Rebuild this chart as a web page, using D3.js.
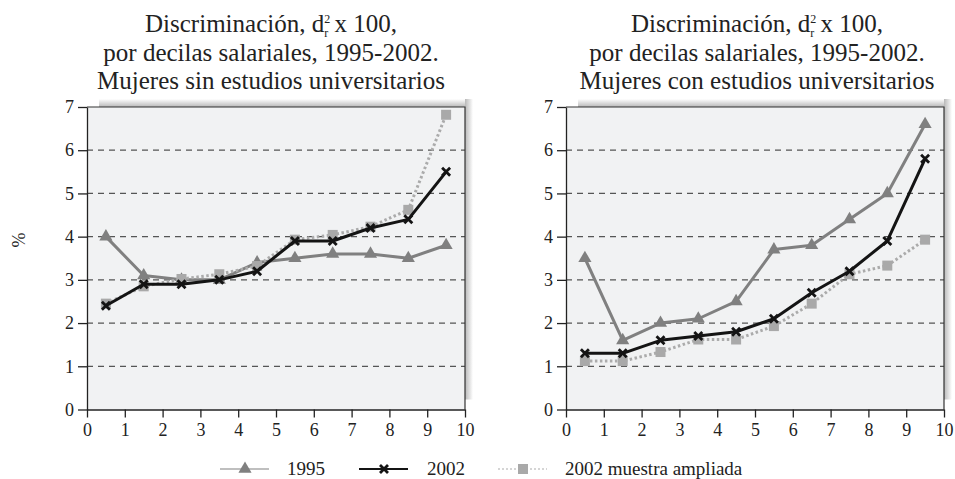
<!DOCTYPE html>
<html>
<head>
<meta charset="utf-8">
<title>Discriminación por decilas salariales</title>
<script src="https://d3js.org/d3.v7.min.js"></script>
<style>
  body { margin: 0; background: #fff; }
  text { font-family: "Liberation Serif", "Times New Roman", serif; fill: #222; }
</style>
</head>
<body>
<svg width="955" height="479"></svg>
<script>
// deciles (mid points) and values
const deciles = [0.5, 1.5, 2.5, 3.5, 4.5, 5.5, 6.5, 7.5, 8.5, 9.5];

const sin1995 = [4.0, 3.1, 3.0, 3.0, 3.4, 3.5, 3.6, 3.6, 3.5, 3.8];
const sin2002 = [2.4, 2.9, 2.9, 3.0, 3.2, 3.9, 3.9, 4.2, 4.4, 5.5];
const sinAmpl = [2.45, 2.85, 3.02, 3.13, 3.32, 3.93, 4.04, 4.23, 4.62, 6.82];

const con1995 = [3.5, 1.6, 2.0, 2.1, 2.5, 3.7, 3.8, 4.4, 5.0, 6.6];
const con2002 = [1.3, 1.3, 1.6, 1.7, 1.8, 2.1, 2.7, 3.2, 3.9, 5.8];
const conAmpl = [1.12, 1.12, 1.33, 1.62, 1.62, 1.93, 2.45, 3.13, 3.33, 3.93];

const xTicks = [0, 1, 2, 3, 4, 5, 6, 7, 8, 9, 10];
const yTicks = [0, 1, 2, 3, 4, 5, 6, 7];
const gridValues = [1, 2, 3, 4, 5, 6];

const seriesNames = ["1995", "2002", "2002 muestra ampliada"];

const panels = [
  { title: ["Mujeres sin estudios universitarios"], cx: 271, left: 87, s: [sin1995, sin2002, sinAmpl] },
  { title: ["Mujeres con estudios universitarios"], cx: 757, left: 566, s: [con1995, con2002, conAmpl] }
];

const serif = '"Liberation Serif", "Times New Roman", serif';
const plotW = 378, plotTop = 107, plotBottom = 409.5;

const svg = d3.select("svg");
const defs = svg.append("defs");

const gTop = defs.append("linearGradient").attr("id", "shTop")
  .attr("x1", 0).attr("y1", 1).attr("x2", 0).attr("y2", 0);
gTop.append("stop").attr("offset", 0).attr("stop-color", "#b8b8b8");
gTop.append("stop").attr("offset", 1).attr("stop-color", "#ffffff");
const gRight = defs.append("linearGradient").attr("id", "shRight")
  .attr("x1", 0).attr("y1", 0).attr("x2", 1).attr("y2", 0);
gRight.append("stop").attr("offset", 0).attr("stop-color", "#b8b8b8");
gRight.append("stop").attr("offset", 1).attr("stop-color", "#ffffff");

const styles = [
  { stroke: "#808080", width: 3, dash: null },
  { stroke: "#141414", width: 3, dash: null },
  { stroke: "#ababab", width: 3, dash: "2.5,2.5" }
];

function marker(sel, k) {
  if (k === 0) {
    sel.append("path").attr("d", d3.symbol(d3.symbolTriangle, 75)())
      .attr("fill", "#808080");
  } else if (k === 1) {
    sel.append("path").attr("d", "M-4,-4L4,4M-4,4L4,-4")
      .attr("stroke", "#141414").attr("stroke-width", 2.8).attr("fill", "none");
  } else {
    sel.append("rect").attr("x", -5).attr("y", -5).attr("width", 10).attr("height", 10)
      .attr("fill", "#a9a9a9");
  }
}

panels.forEach(p => {
  const x = d3.scaleLinear().domain([0, 10]).range([p.left, p.left + plotW]);
  const y = d3.scaleLinear().domain([0, 7]).range([plotBottom, plotTop]);
  const g = svg.append("g");

  // title
  const t = g.append("text").attr("text-anchor", "middle").attr("font-size", 25);
  const l1 = t.append("tspan").attr("x", p.cx).attr("y", 32);
  l1.append("tspan").text("Discriminación, d");
  l1.append("tspan").attr("font-size", 12).attr("dy", -9).text("2");
  l1.append("tspan").attr("font-size", 12).attr("dx", -6).attr("dy", 14).text("r");
  l1.append("tspan").attr("dy", -5).text(" x 100,");
  t.append("tspan").attr("x", p.cx).attr("y", 61).text("por decilas salariales, 1995-2002.");
  t.append("tspan").attr("x", p.cx).attr("y", 89).text(p.title[0]);

  // shadow
  g.append("rect").attr("x", x(0) + 12).attr("y", plotTop - 8).attr("width", plotW - 12 + 8).attr("height", 8)
    .attr("fill", "url(#shTop)");
  g.append("rect").attr("x", x(10)).attr("y", plotTop - 8).attr("width", 8).attr("height", plotBottom - plotTop - 2)
    .attr("fill", "url(#shRight)");

  // plot area
  g.append("rect").attr("x", x(0)).attr("y", plotTop).attr("width", plotW).attr("height", plotBottom - plotTop)
    .attr("fill", "#f1f2f3");

  g.selectAll(".grid").data(gridValues).join("line")
    .attr("x1", x(0)).attr("x2", x(10))
    .attr("y1", d => y(d)).attr("y2", d => y(d))
    .attr("stroke", "#555").attr("stroke-width", 1.2).attr("stroke-dasharray", "6,5");

  // frame top/right
  g.append("path")
    .attr("d", `M${x(0)},${plotTop}H${x(10)}V${plotBottom}`)
    .attr("fill", "none").attr("stroke", "#333").attr("stroke-width", 1.2);

  // axes
  const ax = g.append("g").attr("transform", `translate(0,${plotBottom})`)
    .call(d3.axisBottom(x).tickValues(xTicks).tickFormat(d3.format("d"))
      .tickSize(8).tickSizeOuter(0).tickPadding(6));
  const ay = g.append("g").attr("transform", `translate(${x(0)},0)`)
    .call(d3.axisLeft(y).tickValues(yTicks).tickFormat(d3.format("d"))
      .tickSize(9).tickSizeOuter(0).tickPadding(4));
  [ax, ay].forEach(a => {
    a.attr("font-family", serif).attr("font-size", 18);
    a.selectAll("path,line").attr("stroke", "#222").attr("stroke-width", 1.3);
    a.selectAll("text").attr("fill", "#222");
  });

  // series: 1995, ampliada, 2002 drawn in that order
  const order = [0, 2, 1];
  order.forEach(k => {
    const vals = p.s[k];
    const line = d3.line().x((d, i) => x(deciles[i])).y(d => y(d));
    g.append("path").datum(vals).attr("d", line)
      .attr("fill", "none").attr("stroke", styles[k].stroke)
      .attr("stroke-width", styles[k].width)
      .attr("stroke-dasharray", styles[k].dash)
      .attr("stroke-linejoin", "round");
    vals.forEach((v, i) => {
      const m = g.append("g").attr("transform", `translate(${x(deciles[i])},${y(v)})`);
      marker(m, k);
    });
  });
});

// y label
svg.append("text").attr("transform", "translate(25,240) rotate(-90)")
  .attr("text-anchor", "middle").attr("font-size", 18).text("%");

// legend
const legend = svg.append("g");
const legX = [220, 359, 498];
const legTextX = [287, 427, 565];
seriesNames.forEach((name, k) => {
  const ly = 469;
  legend.append("line").attr("x1", legX[k]).attr("x2", legX[k] + 49)
    .attr("y1", ly).attr("y2", ly)
    .attr("stroke", styles[k].stroke)
    .attr("stroke-width", k === 1 ? 2 : 1.2)
    .attr("stroke-dasharray", k === 2 ? "2,2" : null);
  const m = legend.append("g").attr("transform", `translate(${legX[k] + 25},${ly})`);
  marker(m, k);
  legend.append("text").attr("x", legTextX[k]).attr("y", 475)
    .attr("font-size", 19).text(name);
});
</script>
</body>
</html>
